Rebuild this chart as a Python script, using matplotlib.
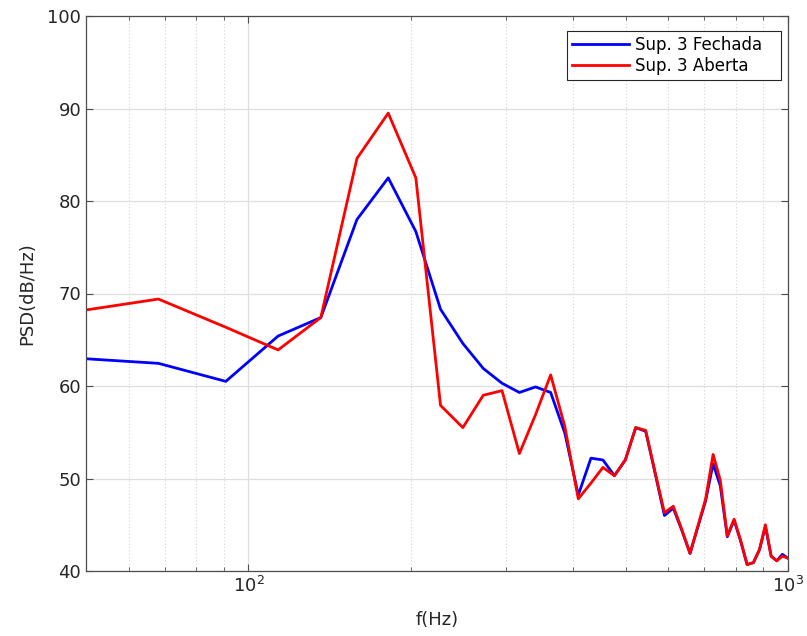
import matplotlib
matplotlib.use('Agg')
import matplotlib.pyplot as plt
import numpy as np
from matplotlib.ticker import LogLocator, NullFormatter, FixedLocator

# frequency bins (Hz)
freq = [45.4, 68.1, 90.8, 113.5, 136.2, 158.9, 181.6, 204.3, 227.0, 249.7,
        272.4, 295.1, 317.8, 340.5, 363.2, 385.9, 408.6, 431.3, 454.0, 476.7,
        499.4, 522.1, 544.8, 567.5, 590.2, 612.9, 635.6, 658.3, 681.0, 703.7,
        726.4, 749.1, 771.8, 794.5, 817.2, 839.9, 862.6, 885.3, 908.0, 930.7,
        953.4, 976.1, 998.8]

psd_fechada = [63.1, 62.45, 60.5, 65.4, 67.4, 78.0, 82.5, 76.7, 68.3, 64.6,
               61.9, 60.3, 59.3, 59.9, 59.3, 54.9, 48.2, 52.2, 52.0, 50.3,
               52.0, 55.5, 55.1, 50.5, 46.0, 46.8, 44.4, 41.9, 44.8, 47.6,
               51.6, 49.2, 43.7, 45.5, 43.2, 40.7, 40.9, 42.3, 44.8, 41.6,
               41.1, 41.8, 41.4]

psd_aberta = [67.85, 69.4, 66.35, 63.9, 67.4, 84.6, 89.5, 82.5, 57.9, 55.5,
              59.0, 59.5, 52.7, 56.9, 61.2, 55.6, 47.8, 49.5, 51.2, 50.3,
              52.0, 55.5, 55.2, 50.6, 46.3, 47.0, 44.5, 41.9, 44.9, 47.8,
              52.6, 49.8, 43.8, 45.6, 43.3, 40.7, 40.9, 42.3, 45.0, 41.6,
              41.1, 41.6, 41.4]

labels = ['Sup. 3 Fechada', 'Sup. 3 Aberta']
y_ticks = [40, 50, 60, 70, 80, 90, 100]

plt.rcParams['font.family'] = 'DejaVu Sans'

fig = plt.figure(figsize=(8.07, 6.36), dpi=100)
ax = fig.add_axes([86 / 807, 65 / 636, 702 / 807, 555 / 636])

ax.semilogx(freq, psd_fechada, color='#0000ff', lw=2.0, label=labels[0])
ax.semilogx(freq, psd_aberta, color='#ff0000', lw=2.0, label=labels[1])

ax.set_xlim(50, 1000)
ax.set_ylim(40, 100)
ax.yaxis.set_major_locator(FixedLocator(y_ticks))
ax.xaxis.set_major_locator(LogLocator(base=10))
ax.xaxis.set_minor_locator(LogLocator(base=10, subs=np.arange(2, 10)))
ax.xaxis.set_minor_formatter(NullFormatter())

# matlab-like grid
ax.grid(True, which='major', color='#dedede', lw=0.9, ls='-')
ax.grid(True, which='minor', axis='x', color='#d4d4d4', lw=0.8, ls=(0, (1, 2)))
ax.set_axisbelow(True)

for s in ax.spines.values():
    s.set_color('#4d4d4d')
    s.set_linewidth(0.9)
ax.tick_params(which='both', direction='in', top=True, right=True,
               colors='#4d4d4d', labelcolor='#262626', labelsize=13)
ax.tick_params(which='major', length=5)
ax.tick_params(which='minor', length=3)

ax.set_xlabel('f(Hz)', fontsize=13, color='#262626', labelpad=11)
ax.set_ylabel('PSD(dB/Hz)', fontsize=13, color='#262626', labelpad=8)

# legend box stretched to the width seen in the original
leg = ax.legend(loc='upper left', bbox_to_anchor=(0.6852, 0.8883, 0.3048, 0.0847),
                mode='expand', borderaxespad=0, fontsize=12, fancybox=False,
                framealpha=1, edgecolor='#262626', handlelength=3.4,
                handletextpad=0.36, labelspacing=0.2, borderpad=0.3)
leg.get_frame().set_linewidth(0.8)

fig.savefig('out.png', dpi=100)
